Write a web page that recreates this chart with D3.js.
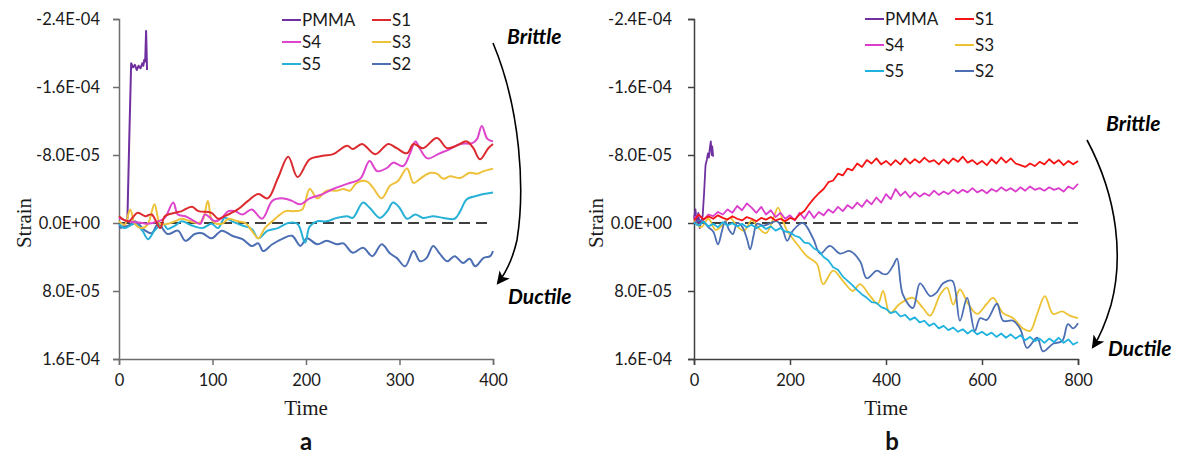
<!DOCTYPE html>
<html><head><meta charset="utf-8">
<script src="https://cdn.jsdelivr.net/npm/d3@7"></script>
<style>
html,body{margin:0;padding:0;background:#fff;}
svg{display:block;}
</style></head>
<body><svg id="chart" width="1183" height="457"></svg>
<script>
// ---------- DATA (strain values in units of 1e-5) ----------
const unit = 1e-5;
const seriesNames = ["PMMA","S1","S4","S3","S5","S2"];
const yTickValues = [-2.4e-4,-1.6e-4,-8.0e-5,0,8.0e-5,1.6e-4];
const yTickLabels = ["-2.4E-04","-1.6E-04","-8.0E-05","0.0E+00","8.0E-05","1.6E-04"];
const xTicksA = [0,100,200,300,400];
const xTicksB = [0,200,400,600,800];

// Panel a : [time, strain]
const a_PMMA = [[0,0.3],[5,0.5],[9,-0.5],[11,-10],[13,-18.8],[15,-18.3],[17,-18.6],[19,-18.0],[21,-18.5],[23,-18.2],[25,-18.8],[26,-18.5],[27,-19.2],[28,-19.0],[29,-22.6],[30,-18.0]];
const a_S1 = [[0,-0.8],[10,-0.2],[20,-1.2],[28,-0.8],[35,-1.0],[44,0.6],[49,-0.8],[60,-1.2],[67,-1.4],[78,-1.9],[85,-1.4],[99,-1.2],[106,-0.5],[113,-0.8],[127,-1.6],[138,-2.6],[149,-3.4],[159,-2.9],[170,-5.3],[181,-7.8],[191,-5.4],[204,-7.5],[218,-7.9],[229,-8.1],[244,-9.1],[250,-8.7],[260,-9.3],[274,-8.1],[288,-9.3],[297,-8.8],[308,-8.2],[315,-9.3],[325,-8.8],[340,-10.0],[351,-8.8],[361,-9.1],[372,-9.6],[379,-8.8],[386,-7.5],[395,-8.8],[400,-9.3]];
const a_S4 = [[0,-0.6],[10,-0.2],[25,0],[31,0.1],[42,-0.2],[49,-0.6],[58,-2.4],[63,-1.0],[71,-0.8],[81,-0.2],[87,0.1],[92,-1.0],[103,-0.2],[110,-0.6],[117,-1.4],[124,-1.4],[132,-1.0],[142,-1.6],[153,-0.5],[164,-2.6],[174,-2.9],[185,-2.6],[194,-2.2],[204,-2.9],[218,-3.4],[229,-4.0],[244,-4.6],[258,-5.2],[268,-7.3],[276,-6.1],[287,-6.5],[293,-7.1],[304,-6.7],[311,-8.1],[317,-9.6],[322,-8.7],[330,-7.6],[343,-8.2],[354,-8.7],[365,-9.3],[378,-9.4],[383,-9.9],[388,-11.4],[394,-9.9],[400,-9.6]];
const a_S3 = [[0,-0.2],[6,0.2],[12,-1.6],[17,0.1],[25,0.6],[31,0.1],[38,-2.2],[44,0.1],[52,0.1],[60,-0.2],[67,-0.5],[76,-0.2],[85,0],[90,-0.5],[95,-2.6],[100,-0.2],[110,0.1],[117,-0.5],[127,-0.2],[135,0],[142,0.9],[149,1.8],[156,0.6],[164,-0.2],[170,-0.8],[178,-1.4],[188,-1.4],[196,-1.6],[204,-4.0],[212,-2.9],[222,-3.8],[233,-3.8],[240,-4.0],[247,-3.8],[254,-4.7],[265,-4.9],[272,-4.1],[281,-2.9],[290,-4.4],[298,-4.9],[308,-6.4],[315,-4.7],[322,-5.2],[333,-5.9],[340,-5.8],[347,-5.2],[354,-5.5],[365,-5.3],[375,-5.9],[383,-5.8],[390,-6.1],[400,-6.4]];
const a_S5 = [[0,0.1],[6,0.6],[17,0.1],[25,0.9],[31,1.9],[38,0.9],[47,0.1],[52,0.7],[60,0.3],[67,-0.2],[78,0.3],[89,0.6],[99,0.1],[106,0.6],[113,-0.6],[121,-0.2],[132,0.3],[142,0.7],[149,1.8],[159,0.9],[170,0.6],[181,0],[191,0.1],[199,2.3],[204,0.4],[212,-0.2],[222,-0.2],[233,-0.6],[244,-0.8],[250,-0.6],[261,-2.4],[268,-1.8],[279,-0.6],[287,-1.4],[293,-2.4],[300,-1.8],[308,-0.5],[317,-1.0],[325,-0.6],[336,-0.8],[347,-0.6],[359,-0.5],[365,-1.4],[372,-2.8],[383,-3.2],[390,-3.4],[400,-3.6]];
const a_S2 = [[0,0.6],[10,0.3],[17,-0.2],[28,0.9],[35,1.2],[42,0.1],[52,1.3],[63,0.9],[71,2.1],[81,1.3],[89,1.2],[99,1.8],[110,0.9],[121,1.5],[132,1.9],[142,2.7],[149,2.4],[154,3.3],[164,2.5],[174,1.9],[185,1.5],[194,2.7],[201,1.8],[212,2.5],[222,2.1],[233,2.5],[240,2.4],[250,3.5],[261,2.9],[271,3.9],[281,2.5],[290,3.6],[297,4.1],[306,5.1],[315,3.3],[322,4.5],[329,4.1],[336,2.7],[343,3.6],[351,4.5],[359,3.9],[368,4.7],[375,4.2],[381,5.1],[390,4.1],[397,3.9],[400,3.3]];

// Panel b
const b_PMMA = [[0,-0.5],[3,-1.6],[6,0.2],[9,-1.2],[12,0.6],[15,-0.3],[18,-0.8],[21,-3.5],[24,-6.8],[27,-7.5],[29,-8.2],[31,-7.7],[33,-8.8],[35,-9.6],[37,-8.0],[38,-9.0],[40,-7.8]];
const b_time10 = [0,10,20,30,40,50,60,70,80,90,100,110,120,130,140,150,160,170,180,190,200,210,220,230,240,250,260,270,280,290,300,310,320,330,340,350,360,370,380,390,400,410,420,430,440,450,460,470,480,490,500,510,520,530,540,550,560,570,580,590,600,610,620,630,640,650,660,670,680,690,700,710,720,730,740,750,760,770,780,790,800];
const b_S1 = [-0.3,-1.0,-0.4,-0.8,-0.5,-0.9,-0.6,-0.4,-0.8,-0.5,-0.3,-0.7,-0.5,-0.2,-0.6,-0.4,-0.7,-0.3,-0.5,-0.2,-0.6,-0.4,-1.0,-1.4,-2.2,-2.9,-3.5,-4.0,-4.8,-5.0,-5.8,-5.6,-6.4,-6.2,-7.0,-6.6,-7.4,-7.0,-7.6,-6.9,-7.3,-6.8,-7.4,-6.9,-7.6,-7.0,-7.5,-7.1,-7.7,-7.2,-7.4,-6.9,-7.5,-7.0,-7.6,-7.2,-7.8,-7.1,-7.4,-6.9,-7.3,-6.8,-7.5,-7.0,-7.7,-7.1,-7.6,-7.0,-6.8,-6.6,-7.0,-6.7,-7.2,-6.9,-7.5,-7.0,-7.4,-6.8,-7.3,-6.9,-7.3];
const b_S4 = [-0.6,-0.9,-0.4,-1.0,-0.8,-1.3,-1.0,-1.6,-1.2,-2.0,-1.5,-2.3,-1.8,-1.2,-1.9,-1.0,-1.5,-0.7,-1.2,-0.5,-0.9,-0.3,-1.2,-0.5,-1.4,-0.6,-1.3,-0.9,-1.6,-1.2,-1.9,-1.4,-2.1,-1.7,-2.4,-1.9,-2.7,-2.2,-3.0,-2.4,-3.4,-2.8,-4.0,-3.2,-3.7,-3.0,-3.6,-3.1,-3.5,-3.2,-3.8,-3.3,-3.7,-3.4,-3.9,-3.5,-3.9,-3.6,-4.1,-3.6,-3.9,-3.5,-4.0,-3.7,-4.2,-3.8,-4.1,-3.7,-4.2,-3.8,-4.3,-3.9,-4.1,-3.8,-4.2,-3.9,-4.1,-3.7,-4.3,-4.0,-4.6];
const b_S5 = [0.0,0.3,-0.2,0.4,0.1,0.5,-0.1,0.3,0.0,0.4,0.1,0.5,0.2,0.6,0.3,0.7,0.4,0.9,0.6,1.0,1.1,1.5,1.7,2.3,2.4,3.0,3.3,4.0,4.4,5.2,5.5,6.3,6.8,7.3,7.9,8.4,8.8,9.3,9.4,9.9,10.1,10.6,10.4,11.0,10.8,11.4,11.1,11.7,11.5,12.1,11.8,12.4,12.1,12.6,12.3,12.8,12.5,13.0,12.6,13.1,12.8,13.2,12.9,13.4,13.0,13.5,13.1,13.6,13.2,13.8,13.4,13.9,13.6,14.1,13.6,14.0,13.5,14.1,13.7,14.3,14.0];
const b_S3 = [[0,-0.3],[15,0.5],[30,-0.5],[45,0.8],[60,0.2],[75,-0.6],[90,0.4],[105,0.9],[120,-0.3],[135,0.6],[150,1.2],[165,-0.5],[175,-1.8],[185,-0.3],[194,0.9],[215,2.5],[235,3.9],[256,4.8],[269,7.2],[290,5.6],[310,6.8],[331,8.0],[346,7.2],[367,8.6],[383,9.5],[394,8.0],[408,10.6],[429,9.5],[456,8.8],[477,10.0],[492,10.9],[513,8.4],[527,7.6],[540,9.6],[554,7.8],[571,9.5],[590,10.7],[610,9.5],[623,8.8],[644,10.6],[665,11.2],[685,12.4],[700,12.7],[715,10.7],[731,8.6],[748,10.7],[767,10.4],[783,10.9],[800,11.2]];
const b_S2 = [[0,0],[15,-0.3],[30,0.5],[40,1.0],[50,2.5],[58,1.0],[65,-0.2],[73,0.8],[81,1.3],[90,0.0],[100,0.4],[110,1.8],[117,3.1],[124,1.5],[131,0.1],[145,0.3],[160,0.0],[173,-0.2],[185,0.8],[194,2.1],[206,0.9],[227,0.0],[248,1.8],[263,3.6],[283,2.7],[304,3.6],[325,3.3],[346,4.5],[360,6.5],[381,5.6],[394,6.0],[402,6.0],[415,5.0],[423,4.2],[435,8.4],[456,10.0],[471,7.1],[492,8.6],[505,8.2],[519,7.1],[538,6.8],[554,11.5],[569,8.8],[585,12.7],[596,11.2],[610,11.4],[631,9.5],[644,11.5],[665,11.5],[680,12.5],[694,14.7],[715,13.5],[727,15.1],[748,14.2],[767,13.9],[779,11.9],[790,12.4],[800,11.8]];

// ---------- STYLE ----------
const colorsA = {PMMA:"#7030A0",S1:"#DC2A2E",S4:"#DE44CC",S3:"#EEC13A",S5:"#27B1D6",S2:"#4C6FB3"};
const colorsB = {PMMA:"#7030A0",S1:"#F51414",S4:"#DB3CCB",S3:"#EDC232",S5:"#1FB2DE",S2:"#4C6FB3"};

const svg = d3.select("#chart");
const tickFont = "Lato, 'Open Sans', sans-serif";

const defs = svg.append("defs");
defs.append("marker").attr("id","arrowhead").attr("viewBox","0 0 12 12")
  .attr("refX",10).attr("refY",6).attr("markerWidth",13).attr("markerHeight",13)
  .attr("markerUnits","userSpaceOnUse").attr("orient","auto")
  .append("path").attr("d","M0,0 L12,6 L0,12 L3,6 Z").attr("fill","#000");

function toPts(pairs){ return pairs.map(p=>({t:p[0], v:p[1]*unit})); }
function gridPts(times, vals){ return times.map((t,i)=>({t:t, v:vals[i]*unit})); }

const panels = [
  { key:"a", x0:119, x1:493, xMax:400, xTicks:xTicksA, axisColor:"#6e6e6e", colors:colorsA,
    series:[
      {name:"PMMA", pts:toPts(a_PMMA), curve:d3.curveLinear},
      {name:"S2", pts:toPts(a_S2), curve:d3.curveCatmullRom},
      {name:"S5", pts:toPts(a_S5), curve:d3.curveCatmullRom},
      {name:"S3", pts:toPts(a_S3), curve:d3.curveCatmullRom},
      {name:"S4", pts:toPts(a_S4), curve:d3.curveCatmullRom},
      {name:"S1", pts:toPts(a_S1), curve:d3.curveCatmullRom}
    ],
    legend:{x1:282, x2:372, rows:[20,42,64]},
    strainX:31, letterX:306, timeX:306,
    brittle:{x:507,y:44}, ductile:{x:508,y:304},
    arrow:"M493,43 C521,110 525,190 517,240 C512,262 505,274 498,283"
  },
  { key:"b", x0:694, x1:1078, xMax:800, xTicks:xTicksB, axisColor:"#404040", colors:colorsB,
    series:[
      {name:"PMMA", pts:toPts(b_PMMA), curve:d3.curveLinear},
      {name:"S3", pts:toPts(b_S3), curve:d3.curveCatmullRom},
      {name:"S2", pts:toPts(b_S2), curve:d3.curveCatmullRom},
      {name:"S5", pts:gridPts(b_time10,b_S5), curve:d3.curveLinear},
      {name:"S4", pts:gridPts(b_time10,b_S4), curve:d3.curveLinear},
      {name:"S1", pts:gridPts(b_time10,b_S1), curve:d3.curveLinear}
    ],
    legend:{x1:865, x2:955, rows:[19,45,71]},
    strainX:603, letterX:892, timeX:886,
    brittle:{x:1106,y:131}, ductile:{x:1108,y:356},
    arrow:"M1087,140 C1119,200 1123,260 1111,305 C1105,325 1099,338 1093,347"
  }
];

const yTop = 19, yBot = 359;
const y = d3.scaleLinear().domain([-2.4e-4, 1.6e-4]).range([yTop, yBot]);

panels.forEach(p=>{
  const x = d3.scaleLinear().domain([0,p.xMax]).range([p.x0,p.x1]);
  const g = svg.append("g");

  const ya = g.append("g").attr("transform",`translate(${p.x0},0)`)
    .call(d3.axisLeft(y).tickValues(yTickValues).tickFormat((d,i)=>yTickLabels[i]).tickSizeOuter(0).tickSize(6).tickPadding(p.key==="a"?13:16));
  const xa = g.append("g").attr("transform",`translate(0,${yBot})`)
    .call(d3.axisBottom(x).tickValues(p.xTicks).tickFormat(d3.format("d")).tickSizeOuter(0).tickSize(6).tickPadding(9));
  [ya,xa].forEach(a=>{
    a.select(".domain").attr("stroke",p.axisColor).attr("stroke-width",1.5);
    a.selectAll(".tick line").attr("stroke",p.axisColor).attr("stroke-width",1.5);
    a.selectAll(".tick text").attr("fill","#1a1a1a").style("font-family",tickFont).style("font-size","16.5px");
  });

  g.append("line").attr("x1",x(0)).attr("x2",x(p.xMax)).attr("y1",y(0)).attr("y2",y(0))
    .attr("stroke","#000").attr("stroke-width",1.6).attr("stroke-dasharray","11,6");

  p.series.forEach(s=>{
    const line = d3.line().x(d=>x(d.t)).y(d=>y(d.v)).curve(s.curve);
    g.append("path").datum(s.pts).attr("d",line).attr("fill","none")
      .attr("stroke",p.colors[s.name]).attr("stroke-width",p.key==="a"?2:1.8)
      .attr("stroke-linejoin","round");
  });

  const order = [["PMMA","S1"],["S4","S3"],["S5","S2"]];
  order.forEach((row,ri)=>{
    row.forEach((name,ci)=>{
      const lx = ci===0?p.legend.x1:p.legend.x2;
      const ly = p.legend.rows[ri];
      g.append("line").attr("x1",lx).attr("x2",lx+19).attr("y1",ly).attr("y2",ly)
        .attr("stroke",p.colors[name]).attr("stroke-width",2);
      g.append("text").attr("x",lx+20).attr("y",ly).attr("dy","0.36em")
        .style("font-family",tickFont).style("font-size","17px").attr("fill","#1a1a1a").text(name);
    });
  });

  g.append("text").attr("x",p.timeX).attr("y",415).attr("text-anchor","middle")
    .style("font-family","'Liberation Serif','Times New Roman',serif").style("font-size","21px").attr("fill","#1a1a1a").text("Time");
  g.append("text").attr("transform",`translate(${p.strainX},${y(0)}) rotate(-90)`).attr("text-anchor","middle")
    .style("font-family","'Liberation Serif','Times New Roman',serif").style("font-size","21px").attr("fill","#1a1a1a").text("Strain");
  g.append("text").attr("x",p.letterX).attr("y",450).attr("text-anchor","middle")
    .style("font-family",tickFont).style("font-weight","bold").style("font-size","24px").attr("fill","#111").text(p.key);

  g.append("path").attr("d",p.arrow).attr("fill","none").attr("stroke","#000").attr("stroke-width",1.6)
    .attr("marker-end","url(#arrowhead)");
  g.append("text").attr("x",p.brittle.x).attr("y",p.brittle.y)
    .style("font-family",tickFont).style("font-weight","bold").style("font-style","italic").style("font-size","21px").attr("fill","#000").text("Brittle");
  g.append("text").attr("x",p.ductile.x).attr("y",p.ductile.y)
    .style("font-family",tickFont).style("font-weight","bold").style("font-style","italic").style("font-size","21px").attr("fill","#000").text("Ductile");
});
</script>
</body></html>
